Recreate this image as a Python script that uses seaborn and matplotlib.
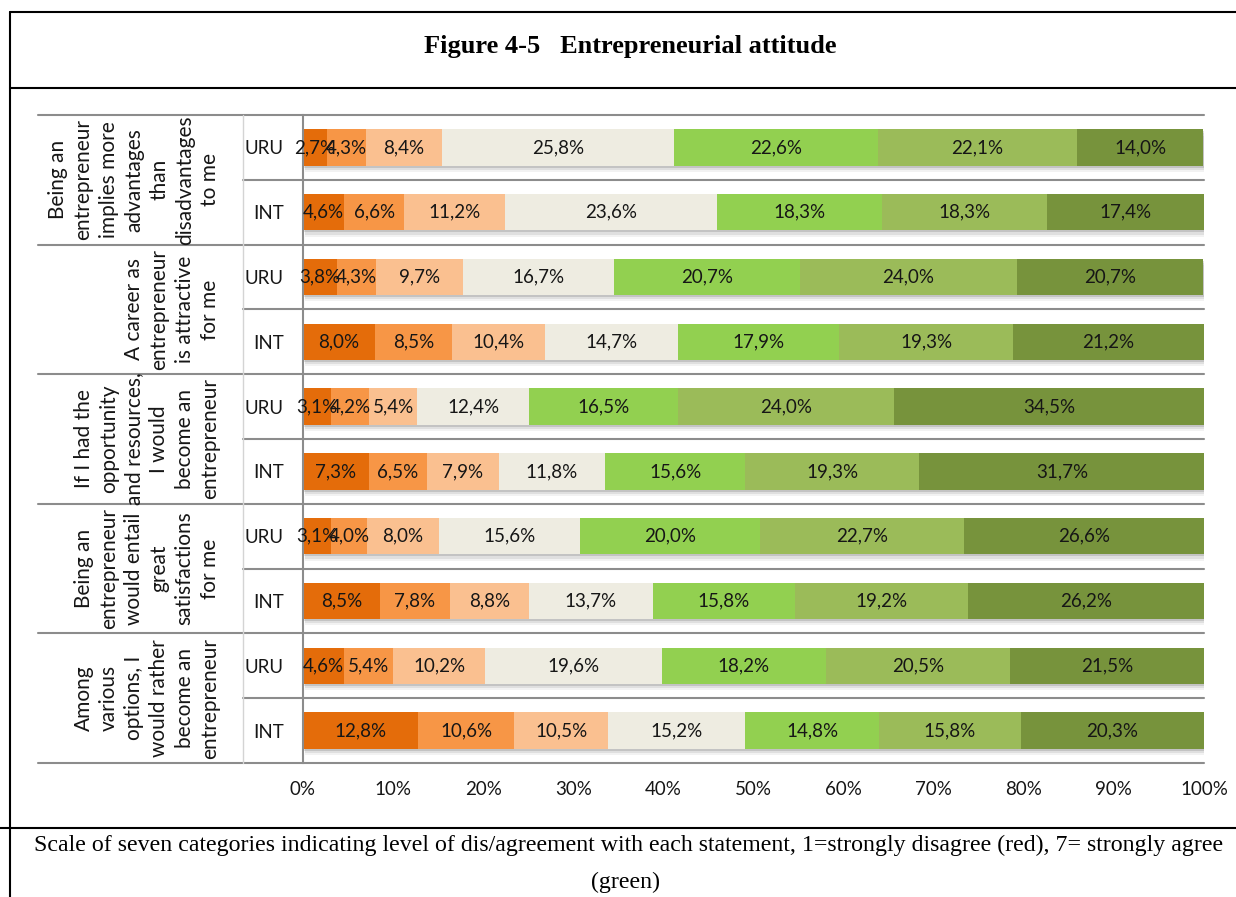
import numpy as np
import pandas as pd
import matplotlib
matplotlib.use("Agg")
import matplotlib.pyplot as plt
import matplotlib.patheffects as pe
import matplotlib.transforms as mtransforms
from matplotlib.lines import Line2D
import seaborn as sns

# Survey statements (one group of two bars each)
statements = [
    "Being an\nentrepreneur\nimplies more\nadvantages\nthan\ndisadvantages\nto me",
    "A career as\nentrepreneur\nis attractive\nfor me",
    "If I had the\nopportunity\nand resources,\nI would\nbecome an\nentrepreneur",
    "Being an\nentrepreneur\nwould entail\ngreat\nsatisfactions\nfor me",
    "Among\nvarious\noptions, I\nwould rather\nbecome an\nentrepreneur",
]
countries = ["URU", "INT"]
levels = [1, 2, 3, 4, 5, 6, 7]
level_colors = ["#E46C0A", "#F79646", "#FAC090", "#EEECE1",
                "#92D050", "#9BBB59", "#77933C"]

# Share of answers per agreement level (1 = strongly disagree ... 7 = strongly agree)
advantages_uru = [2.7, 4.3, 8.4, 25.8, 22.6, 22.1, 14.0]
advantages_int = [4.6, 6.6, 11.2, 23.6, 18.3, 18.3, 17.4]
career_uru = [3.8, 4.3, 9.7, 16.7, 20.7, 24.0, 20.7]
career_int = [8.0, 8.5, 10.4, 14.7, 17.9, 19.3, 21.2]
opportunity_uru = [3.1, 4.2, 5.4, 12.4, 16.5, 24.0, 34.5]
opportunity_int = [7.3, 6.5, 7.9, 11.8, 15.6, 19.3, 31.7]
satisfaction_uru = [3.1, 4.0, 8.0, 15.6, 20.0, 22.7, 26.6]
satisfaction_int = [8.5, 7.8, 8.8, 13.7, 15.8, 19.2, 26.2]
options_uru = [4.6, 5.4, 10.2, 19.6, 18.2, 20.5, 21.5]
options_int = [12.8, 10.6, 10.5, 15.2, 14.8, 15.8, 20.3]

series = [
    (advantages_uru, advantages_int),
    (career_uru, career_int),
    (opportunity_uru, opportunity_int),
    (satisfaction_uru, satisfaction_int),
    (options_uru, options_int),
]

# Long table with cumulative positions for the stacked bars
records = []
row_keys = []
for i, pair in enumerate(series):
    for c, vals in zip(countries, pair):
        key = f"{i}-{c}"
        row_keys.append(key)
        cum = np.cumsum(vals)
        for lv, v, cu in zip(levels, vals, cum):
            records.append({"row": key, "country": c, "level": lv,
                            "value": v, "cum": cu})
df = pd.DataFrame(records)

sns.set_theme(style="white")
plt.rcParams["font.family"] = ["Lato", "DejaVu Sans"]

FS = 13.5
TXT = "#161616"

W, H = 1236, 897
fig = plt.figure(figsize=(W / 100, H / 100), dpi=100)
ax = fig.add_axes([303 / W, 1 - 763 / H, 901 / W, (763 - 115) / H])

# Stacked bars: draw cumulative totals from the last level down
for k in reversed(range(len(levels))):
    sub = df[df["level"] == levels[k]]
    sns.barplot(data=sub, x="cum", y="row", order=row_keys, orient="h",
                color=level_colors[k], saturation=1, width=0.56,
                errorbar=None, linewidth=0, ax=ax)

# Soft drop shadow under each full bar
shadow = [
    pe.SimplePatchShadow(offset=(1.5, -4.5), shadow_rgbFace="#000000", alpha=0.05),
    pe.SimplePatchShadow(offset=(1.5, -3.0), shadow_rgbFace="#000000", alpha=0.08),
    pe.SimplePatchShadow(offset=(1.0, -1.5), shadow_rgbFace="#000000", alpha=0.12),
    pe.Normal(),
]
for patch in ax.containers[0].patches:
    patch.set_path_effects(shadow)

# Value labels inside each segment
for r, key in enumerate(row_keys):
    sub = df[df["row"] == key]
    for v, cu in zip(sub["value"], sub["cum"]):
        ax.text(cu - v / 2, r, f"{v:.1f}".replace(".", ",") + "%",
                ha="center", va="center", fontsize=FS, color=TXT)

ax.set_xlim(0, 100)
ax.set_ylim(len(row_keys) - 0.5, -0.5)
ax.set_xlabel("")
ax.set_ylabel("")
ax.set_xticks(np.arange(0, 101, 10))
ax.set_xticklabels([f"{t}%" for t in range(0, 101, 10)])
ax.set_yticks(range(len(row_keys)))
ax.set_yticklabels([c for _ in statements for c in countries])
ax.tick_params(axis="x", length=0, pad=13, labelsize=FS, labelcolor=TXT)
ax.tick_params(axis="y", length=0, pad=14, labelsize=FS, labelcolor=TXT)

for s in ["top", "right", "bottom"]:
    ax.spines[s].set_visible(False)
ax.spines["left"].set_color("#8c8c8c")
ax.spines["left"].set_linewidth(1.5)

blend = mtransforms.blended_transform_factory(ax.transAxes, ax.transData)
grid_kw = dict(color="#8c8c8c", lw=1.5, clip_on=False, transform=blend, zorder=0.5)
x_group = (38 - 303) / 901
x_country = (243 - 303) / 901
for b in np.arange(-0.5, len(row_keys), 2):
    ax.plot([x_group, 1.0], [b, b], **grid_kw)
for b in np.arange(0.5, len(row_keys), 2):
    ax.plot([x_country, 1.0], [b, b], **grid_kw)
ax.plot([x_country, x_country], [0, 1], color="#d4d4d4", lw=1.0,
        clip_on=False, transform=ax.transAxes)

# Statement labels, rotated, in the left column
for i, text in enumerate(statements):
    ax.text((220 - 303) / 901, 2 * i + 0.5, text, transform=blend,
            rotation=90, ha="right", va="center", multialignment="center",
            linespacing=1.33, fontsize=15, color=TXT)

# Frame, title and caption
def fx(px):
    return px / W

def fy(py):
    return 1 - py / H

frame = [((10, 12), (W, 12)), ((10, 12), (10, H)),
         ((10, 88), (W, 88)), ((0, 828), (W, 828))]
for (x0, y0), (x1, y1) in frame:
    fig.add_artist(Line2D([fx(x0), fx(x1)], [fy(y0), fy(y1)],
                          color="black", lw=1.5, transform=fig.transFigure))

serif = ["Liberation Serif", "DejaVu Serif"]
fig.text(fx(630), fy(46), "Figure 4-5   Entrepreneurial attitude",
         ha="center", va="center", family=serif, weight="bold",
         fontsize=19, color="black")
fig.text(fx(629), fy(845),
         "Scale of seven categories indicating level of dis/agreement with each "
         "statement, 1=strongly disagree (red), 7= strongly agree",
         ha="center", va="center", family=serif, fontsize=17.2, color="black")
fig.text(fx(625), fy(882), "(green)", ha="center", va="center",
         family=serif, fontsize=17.2, color="black")

fig.savefig("out.png", dpi=100, facecolor="white")
